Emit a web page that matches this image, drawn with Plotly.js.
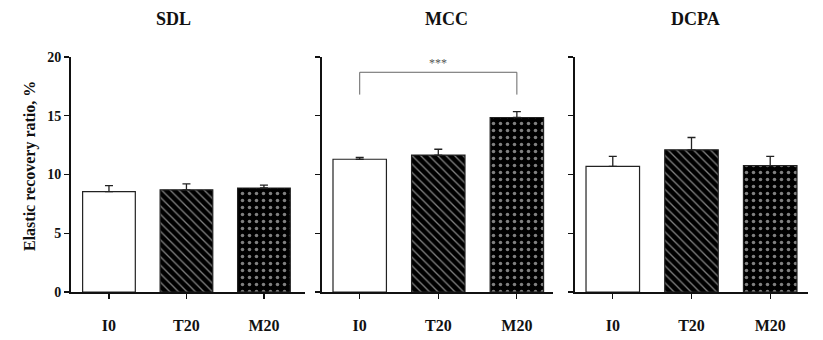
<!DOCTYPE html>
<html>
<head>
<meta charset="utf-8">
<script src="https://cdn.plot.ly/plotly-3.0.1.min.js"></script>
<style>html,body{margin:0;padding:0;background:#fff;}#chart{width:823px;height:340px;}</style>
</head>
<body>
<div id="chart"></div>
<script>
const categories = ['I0', 'T20', 'M20'];
const panelTitles = ['SDL', 'MCC', 'DCPA'];
const sdlMeans = [8.55, 8.7, 8.85];
const sdlErr = [0.5, 0.5, 0.25];
const mccMeans = [11.3, 11.65, 14.85];
const mccErr = [0.15, 0.5, 0.5];
const dcpaMeans = [10.7, 12.1, 10.75];
const dcpaErr = [0.85, 1.05, 0.8];
const yTicks = [0, 5, 10, 15, 20];
const sigLabel = '***';

const W = 823, H = 340;
const px = v => v / W;
const py = v => (H - v) / H;
const font = 'Liberation Serif, Times New Roman, serif';

const means = [sdlMeans, mccMeans, dcpaMeans];
const errs = [sdlErr, mccErr, dcpaErr];
const fills = ['white', 'black', 'black'];
const shapesPat = ['', '\\', '.'];
const patSize = [6, 6, 7];
const patSolid = [0.3, 0.22, 0.2];

const traces = [];
means.forEach((m, i) => {
  categories.forEach((c, j) => {
    traces.push({
      type: 'bar',
      x: [c],
      y: [m[j]],
      xaxis: i === 0 ? 'x' : 'x' + (i + 1),
      yaxis: i === 0 ? 'y' : 'y' + (i + 1),
      width: 0.68,
      marker: {
        color: fills[j],
        line: {color: '#222', width: 1.2},
        pattern: {
          shape: shapesPat[j],
          fgcolor: 'white',
          size: patSize[j],
          solidity: patSolid[j],
          fillmode: 'overlay'
        }
      },
      error_y: {
        type: 'data', symmetric: false,
        array: [errs[i][j]], arrayminus: [0],
        color: '#222', thickness: 1.3, width: 4
      },
      showlegend: false,
      hoverinfo: 'skip'
    });
  });
});

const xDomains = [[71, 305], [322, 553], [575, 808]];
const xRanges = [[-0.49, 2.53], [-0.48, 2.46], [-0.48, 2.48]];
const yDomain = [py(292), py(57)];

const layout = {
  width: W, height: H,
  margin: {l: 0, r: 0, t: 0, b: 0},
  paper_bgcolor: 'white', plot_bgcolor: 'white',
  font: {family: font, color: '#111'},
  barmode: 'overlay',
  annotations: [],
  shapes: []
};

for (let i = 0; i < 3; i++) {
  const sx = i === 0 ? '' : String(i + 1);
  layout['xaxis' + sx] = {
    domain: [px(xDomains[i][0]), px(xDomains[i][1])],
    anchor: 'y' + sx,
    type: 'category',
    categoryorder: 'array', categoryarray: categories,
    range: xRanges[i],
    showline: true, linecolor: '#111', linewidth: 2,
    ticks: 'outside', ticklen: 5, tickwidth: 1.2, tickcolor: '#111',
    ticklabelstandoff: 13,
    tickfont: {family: font, size: 16, color: '#111', weight: 'bold'},
    showgrid: false, zeroline: false, fixedrange: true
  };
  layout['yaxis' + sx] = {
    domain: yDomain,
    anchor: 'x' + sx,
    range: [0, 20],
    tickmode: 'array', tickvals: yTicks,
    ticktext: yTicks.map(String),
    showticklabels: i === 0,
    showline: true, linecolor: '#111', linewidth: 2,
    ticks: 'outside', ticklen: 5, tickwidth: 1.2, tickcolor: '#111',
    tickfont: {family: font, size: 14, color: '#111', weight: 'bold'},
    showgrid: false, zeroline: false, fixedrange: true
  };
}

const titleX = [173, 446, 695];
panelTitles.forEach((t, i) => {
  layout.annotations.push({
    text: '<b>' + t + '</b>', xref: 'paper', yref: 'paper',
    x: px(titleX[i]), y: py(19), xanchor: 'center', yanchor: 'middle',
    showarrow: false, font: {family: font, size: 18, color: '#111'}
  });
});

layout.annotations.push({
  text: '<b>Elastic recovery ratio, %</b>', xref: 'paper', yref: 'paper',
  x: px(30), y: py(166), xanchor: 'center', yanchor: 'middle', textangle: -90,
  showarrow: false, font: {family: font, size: 16, color: '#111'}
});

// significance bracket (MCC: I0 vs M20)
layout.shapes.push({
  type: 'path', xref: 'x2', yref: 'y2',
  path: 'M 0 16.8 L 0 18.7 L 2 18.7 L 2 16.8',
  line: {color: '#666', width: 1}
});
layout.annotations.push({
  text: sigLabel, xref: 'x2', yref: 'y2', x: 1, y: 19.45,
  xanchor: 'center', yanchor: 'middle', showarrow: false,
  font: {family: font, size: 12, color: '#555'}
});

Plotly.newPlot('chart', traces, layout, {displayModeBar: false, staticPlot: true});
</script>
</body>
</html>
